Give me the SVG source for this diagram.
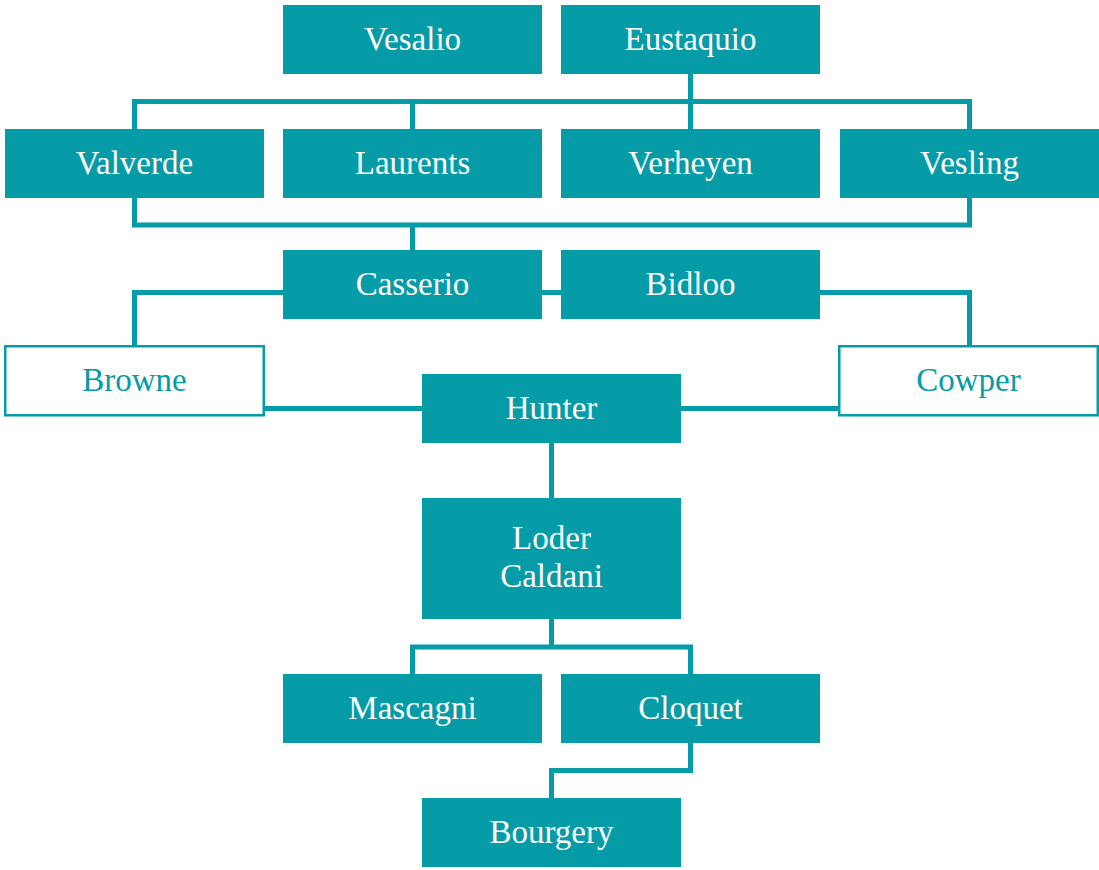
<svg xmlns="http://www.w3.org/2000/svg" width="1099" height="870" viewBox="0 0 1099 870">
<style>
.c{fill:none;stroke:#059ba7;stroke-width:5;stroke-linejoin:miter;stroke-linecap:butt}
.b{fill:#059ba7}
.w{fill:#ffffff;stroke:#059ba7;stroke-width:2.5}
.t{font-family:"Liberation Serif",serif;font-size:33px;fill:#ffffff;text-anchor:middle}
.tt{font-family:"Liberation Serif",serif;font-size:33px;fill:#059ba7;text-anchor:middle}
</style>
<rect width="1099" height="870" fill="#ffffff"/>
<g id="connectors">
<path class="c" d="M690.5 74 V101.5"/>
<path class="c" d="M134.5 129 V101.5 H969.5 V129 M412.5 101.5 V129 M690.5 101.5 V129"/>
<path class="c" d="M134.5 198 V225 H969.5 V198 M412.5 225 V250"/>
<path class="c" d="M542 292.5 H561"/>
<path class="c" d="M283 292.5 H134.5 V346"/>
<path class="c" d="M820 292.5 H969.5 V346"/>
<path class="c" d="M264 408.5 H422"/>
<path class="c" d="M681 408.5 H839"/>
<path class="c" d="M551.5 443 V498"/>
<path class="c" d="M551.5 619 V647 M412.5 674 V647 H690.5 V674"/>
<path class="c" d="M690.5 743 V770.5 H551.5 V798"/>
</g>
<g id="vesalio"><rect class="b" x="283" y="5" width="259" height="69"/><text class="t" x="412.5" y="50">Vesalio</text></g>
<g id="eustaquio"><rect class="b" x="561" y="5" width="259" height="69"/><text class="t" x="690.5" y="50">Eustaquio</text></g>
<g id="valverde"><rect class="b" x="5" y="129" width="259" height="69"/><text class="t" x="134.5" y="174">Valverde</text></g>
<g id="laurents"><rect class="b" x="283" y="129" width="259" height="69"/><text class="t" x="412.5" y="174">Laurents</text></g>
<g id="verheyen"><rect class="b" x="561" y="129" width="259" height="69"/><text class="t" x="690.5" y="174">Verheyen</text></g>
<g id="vesling"><rect class="b" x="840" y="129" width="259" height="69"/><text class="t" x="969.5" y="174">Vesling</text></g>
<g id="casserio"><rect class="b" x="283" y="250" width="259" height="69"/><text class="t" x="412.5" y="295">Casserio</text></g>
<g id="bidloo"><rect class="b" x="561" y="250" width="259" height="69"/><text class="t" x="690.5" y="295">Bidloo</text></g>
<g id="browne"><rect class="w" x="5.25" y="346.25" width="258.5" height="69"/><text class="tt" x="134.5" y="391">Browne</text></g>
<g id="cowper"><rect class="w" x="839.25" y="346.25" width="258.5" height="69"/><text class="tt" x="968.5" y="391">Cowper</text></g>
<g id="hunter"><rect class="b" x="422" y="374" width="259" height="69"/><text class="t" x="551.5" y="419">Hunter</text></g>
<g id="loder-caldani"><rect class="b" x="422" y="498" width="259" height="121"/><text class="t" x="551.5" y="549">Loder</text><text class="t" x="551.5" y="587">Caldani</text></g>
<g id="mascagni"><rect class="b" x="283" y="674" width="259" height="69"/><text class="t" x="412.5" y="719">Mascagni</text></g>
<g id="cloquet"><rect class="b" x="561" y="674" width="259" height="69"/><text class="t" x="690.5" y="719">Cloquet</text></g>
<g id="bourgery"><rect class="b" x="422" y="798" width="259" height="69"/><text class="t" x="551.5" y="843">Bourgery</text></g>
</svg>
